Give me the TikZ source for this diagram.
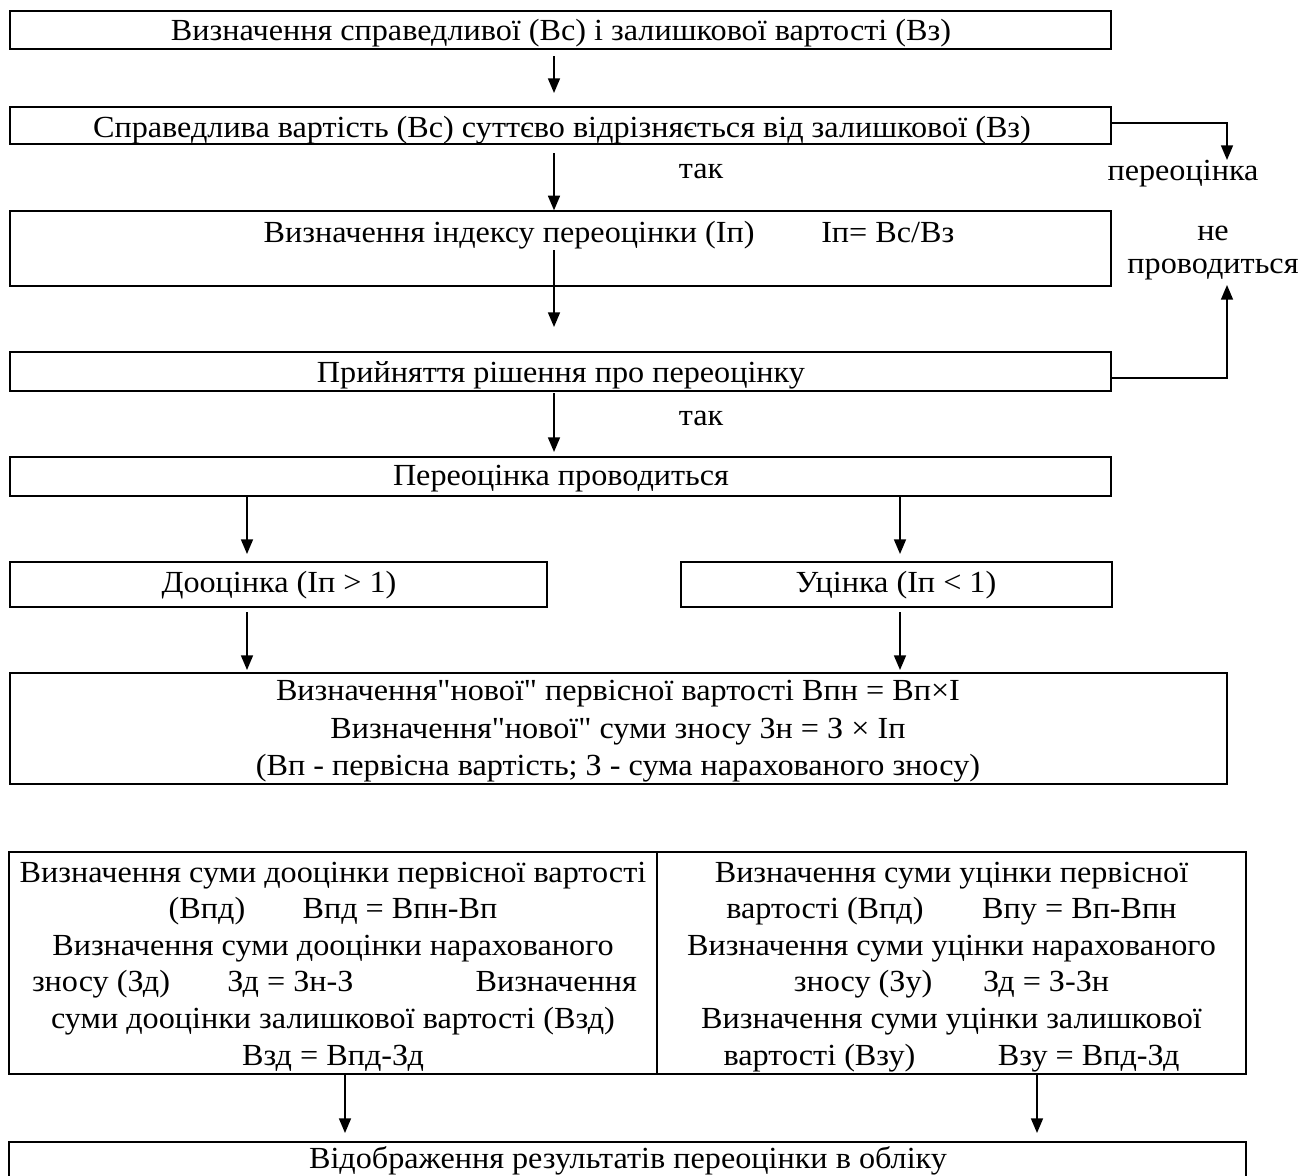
\documentclass[tikz,border=0pt]{standalone}
\usepackage{fontspec}
\setmainfont{Liberation Serif}[FakeStretch=1.05, Ligatures=TeXOff]
\usetikzlibrary{arrows.meta}
\begin{document}
\begin{tikzpicture}[x=0.75pt,y=-0.75pt,
  box/.style={draw, line width=1.5pt, inner sep=0pt, outer sep=0pt},
  txt/.style={anchor=base, inner sep=0pt, font=\fontsize{23}{27.5}\selectfont},
  arr/.style={line width=1.2pt, -{Triangle[length=11pt,width=9pt]}}]
\useasboundingbox (0,0) rectangle (1302,1175);
\fill[white] (0,0) rectangle (1302,1175);

% boxes
\node[box, minimum width=825.75pt, minimum height=28.5pt] (b1) at (560.5,30) {};
\node[box, minimum width=825.75pt, minimum height=27.75pt] (b2) at (560.5,125.5) {};
\node[box, minimum width=825.75pt, minimum height=56.25pt] (b3) at (560.5,248.5) {};
\node[box, minimum width=825.75pt, minimum height=29.25pt] (b4) at (560.5,371.5) {};
\node[box, minimum width=825.75pt, minimum height=29.25pt] (b5) at (560.5,476.5) {};
\node[box, minimum width=402.75pt, minimum height=33.75pt] (b6l) at (278.5,584.5) {};
\node[box, minimum width=323.25pt, minimum height=33.75pt] (b6r) at (896.5,584.5) {};
\node[box, minimum width=912.75pt, minimum height=83.25pt] (b7) at (618.5,728.5) {};
\node[box, minimum width=486pt, minimum height=166.5pt] (b8l) at (333,963) {};
\node[box, minimum width=441.75pt, minimum height=166.5pt] (b8r) at (951.5,963) {};
\node[box, minimum width=927.75pt, minimum height=43.5pt] (b9) at (627.5,1171) {};

% texts
\node[txt] (t1) at (561,40) {Визначення справедливої (Вс) і залишкової вартості (Вз)};
\node[txt] (t2) at (562,137) {Справедлива вартість (Вс) суттєво відрізняється від залишкової (Вз)};
\node[txt] (tak1) at (701,178) {так};
\node[txt] (pk) at (1183,180) {переоцінка};
\node[txt] (t3) at (609,242) {Визначення індексу переоцінки (Іп)\hspace{50pt}Іп= Вс/Вз};
\node[txt] (ne) at (1213,240) {не};
\node[txt] (prov) at (1213,273) {проводиться};
\node[txt] (t4) at (561,382) {Прийняття рішення про переоцінку};
\node[txt] (tak2) at (701,425) {так};
\node[txt] (t5) at (561,485) {Переоцінка проводиться};
\node[txt] (t6l) at (279,592) {Дооцінка (Іп > 1)};
\node[txt] (t6r) at (896,592) {Уцінка (Іп < 1)};
\node[txt] (t7a) at (618,700) {Визначення"нової" первісної вартості Впн = Вп×І};
\node[txt] (t7b) at (618,738) {Визначення"нової" суми зносу Зн = З × Іп};
\node[txt] (t7c) at (618,775) {(Вп - первісна вартість; З - сума нарахованого зносу)};

\node[txt] (l1) at (333,882) {Визначення суми дооцінки первісної вартості};
\node[txt] (l2) at (333,918.6) {(Впд)\hspace{43pt}Впд = Впн-Вп};
\node[txt] (l3) at (333,955.2) {Визначення суми дооцінки нарахованого};
\node[txt] (l4) at (334.5,991.8) {\hbox to 453.75pt{зносу (Зд)\hspace{43pt}Зд = Зн-З\hfill Визначення}};
\node[txt] (l5) at (333,1028.4) {суми дооцінки залишкової вартості (Взд)};
\node[txt] (l6) at (333,1065) {Взд = Впд-Зд};

\node[txt] (r1) at (951.5,882) {Визначення суми уцінки первісної};
\node[txt] (r2) at (951.5,918.6) {вартості (Впд)\hspace{44pt}Впу = Вп-Впн};
\node[txt] (r3) at (951.5,955.2) {Визначення суми уцінки нарахованого};
\node[txt] (r4) at (951.5,991.8) {зносу (Зу)\hspace{38pt}Зд = З-Зн};
\node[txt] (r5) at (951.5,1028.4) {Визначення суми уцінки залишкової};
\node[txt] (r6) at (951.5,1065) {вартості (Взу)\hspace{62pt}Взу = Впд-Зд};

\node[txt] (t9) at (628,1168) {Відображення результатів переоцінки в обліку};

% vertical arrows
\draw[arr, shorten <=5.25pt, shorten >=10.5pt] ([xshift=-4.875pt]b1.south) -- ([xshift=-4.875pt]b2.north);
\draw[arr, shorten <=6.75pt, shorten >=0.5pt] ([xshift=-4.875pt]b2.south) -- ([xshift=-4.875pt]b3.north);
\draw[arr, shorten >=18.75pt] ([xshift=-4.875pt,yshift=27pt]b3.south) -- ([xshift=-4.875pt]b4.north);
\draw[arr, shorten <=1.5pt, shorten >=3.75pt] ([xshift=-4.875pt]b4.south) -- ([xshift=-4.875pt]b5.north);
\draw[arr, shorten >=6pt] ([xshift=-235.125pt]b5.south) -- ([xshift=-23.625pt]b6l.north);
\draw[arr, shorten >=6pt] ([xshift=254.625pt]b5.south) -- ([xshift=2.625pt]b6r.north);
\draw[arr, shorten <=3.75pt, shorten >=2.25pt] ([xshift=-23.625pt]b6l.south) -- ([xshift=-278.625pt]b7.north);
\draw[arr, shorten <=3.75pt, shorten >=2.25pt] ([xshift=2.625pt]b6r.south) -- ([xshift=211.125pt]b7.north);
\draw[arr, shorten >=6.75pt] ([xshift=9pt]b8l.south) -- ([xshift=-211.875pt]b9.north);
\draw[arr, shorten >=6.75pt] ([xshift=64.125pt]b8r.south) -- ([xshift=307.125pt]b9.north);

% side connectors
\coordinate (pkin) at (1227,160);
\coordinate (provin) at (1227,285);
\draw[arr] ([yshift=1.875pt]b2.east) -| (pkin);
\draw[arr] ([yshift=-4.875pt]b4.east) -| (provin);
\end{tikzpicture}
\end{document}
